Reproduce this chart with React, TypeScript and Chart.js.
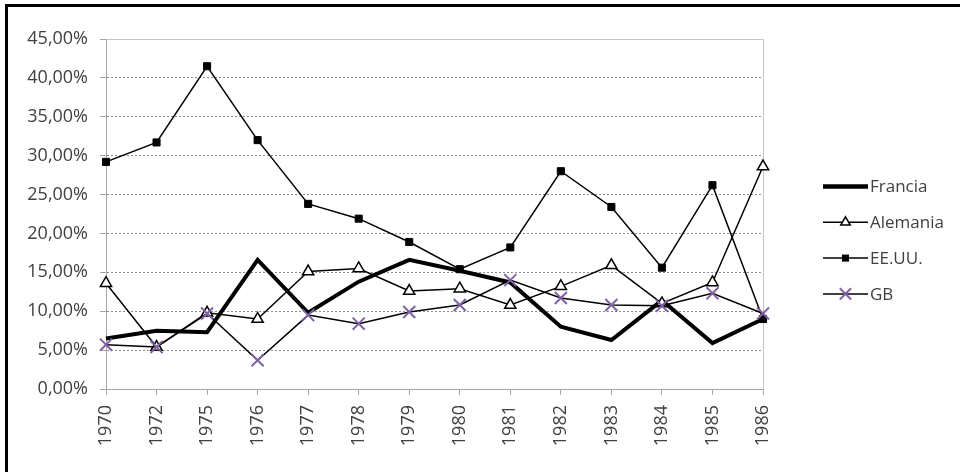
import React, { useEffect, useRef } from 'react';
import { Chart, registerables } from 'chart.js';

Chart.register(...registerables);

const years = ['1970', '1972', '1975', '1976', '1977', '1978', '1979', '1980', '1981', '1982', '1983', '1984', '1985', '1986'];
const francia = [6.5, 7.5, 7.3, 16.6, 9.8, 13.8, 16.6, 15.2, 13.7, 8.0, 6.3, 11.4, 5.9, 9.0];
const alemania = [13.6, 5.4, 9.8, 9.0, 15.1, 15.5, 12.6, 12.9, 10.8, 13.2, 15.9, 11.0, 13.7, 28.6];
const eeuu = [29.2, 31.7, 41.5, 32.0, 23.8, 21.9, 18.9, 15.4, 18.2, 28.0, 23.4, 15.6, 26.2, 9.0];
const gb = [5.7, 5.4, 9.7, 3.7, 9.5, 8.4, 9.9, 10.8, 14.0, 11.7, 10.8, 10.7, 12.3, 9.7];
const seriesNames = ['Francia', 'Alemania', 'EE.UU.', 'GB'];
const yMin = 0;
const yMax = 45;
const yStep = 5;

const FONT = '"Open Sans", "DejaVu Sans", sans-serif';
const TEXT = '#404040';
const AXIS = '#a6a6a6';
const GRID = '#8c8c8c';
const PURPLE = '#8064A2';

function drawMarker(ctx: CanvasRenderingContext2D, style: string, x: number, y: number, r: number) {
  ctx.beginPath();
  if (style === 'rect') {
    const s = Math.SQRT1_2 * r;
    ctx.rect(x - s, y - s, 2 * s, 2 * s);
    ctx.fill();
  } else if (style === 'triangle') {
    let rad = 0;
    ctx.moveTo(x + Math.sin(rad) * r, y - Math.cos(rad) * r);
    rad += (2 * Math.PI) / 3;
    ctx.lineTo(x + Math.sin(rad) * r, y - Math.cos(rad) * r);
    rad += (2 * Math.PI) / 3;
    ctx.lineTo(x + Math.sin(rad) * r, y - Math.cos(rad) * r);
    ctx.closePath();
    ctx.fill();
    ctx.stroke();
  } else if (style === 'crossRot') {
    const o = Math.SQRT1_2 * r;
    ctx.moveTo(x - o, y - o);
    ctx.lineTo(x + o, y + o);
    ctx.moveTo(x - o, y + o);
    ctx.lineTo(x + o, y - o);
    ctx.stroke();
  }
}

const framePlugin = {
  id: 'plotFrame',
  beforeDatasetsDraw(chart: any) {
    const { ctx, chartArea } = chart;
    const l = Math.round(chartArea.left) + 0.5;
    const r = Math.round(chartArea.right) + 0.5;
    const t = Math.round(chartArea.top) + 0.5;
    const b = Math.round(chartArea.bottom) + 0.5;
    ctx.save();
    ctx.strokeStyle = '#c4c4c4';
    ctx.lineWidth = 1;
    ctx.beginPath();
    ctx.moveTo(l, t);
    ctx.lineTo(r, t);
    ctx.lineTo(r, b);
    ctx.stroke();
    ctx.restore();
  },
};

const sideLegend = {
  id: 'sideLegend',
  afterDraw(chart: any) {
    const { ctx, chartArea } = chart;
    const x0 = chartArea.right + 60;
    const lineLen = 45;
    const top = 186.5;
    const gap = 35.8;
    ctx.save();
    chart.data.datasets.forEach((ds: any, i: number) => {
      const y = top + i * gap;
      ctx.strokeStyle = '#000';
      ctx.lineWidth = i === 0 ? 4.5 : 1.5;
      ctx.beginPath();
      ctx.moveTo(x0, y);
      ctx.lineTo(x0 + lineLen, y);
      ctx.stroke();
      if (ds.pointRadius > 0) {
        ctx.fillStyle = ds.pointBackgroundColor;
        ctx.strokeStyle = ds.pointBorderColor;
        ctx.lineWidth = ds.pointBorderWidth;
        const rr = ds.pointStyle === 'triangle' ? 5.5 : ds.pointStyle === 'rect' ? 5 : 8;
        drawMarker(ctx, ds.pointStyle, x0 + lineLen / 2, y, rr);
      }
      ctx.fillStyle = TEXT;
      ctx.font = `17px ${FONT}`;
      ctx.textAlign = 'left';
      ctx.textBaseline = 'middle';
      ctx.fillText(ds.label, x0 + lineLen + 2, y + 1);
    });
    ctx.restore();
  },
};

export default function App() {
  const ref = useRef<HTMLCanvasElement>(null);

  useEffect(() => {
    const chart = new Chart(ref.current as HTMLCanvasElement, {
      type: 'line',
      data: {
        labels: years,
        datasets: [
          {
            label: seriesNames[0],
            data: francia,
            borderColor: '#000',
            borderWidth: 4,
            pointRadius: 0,
            pointStyle: 'circle',
            tension: 0,
            order: 3,
            clip: false as any,
          },
          {
            label: seriesNames[1],
            data: alemania,
            borderColor: '#000',
            borderWidth: 1.5,
            pointStyle: 'triangle',
            pointRadius: 6.5,
            pointBackgroundColor: '#fff',
            pointBorderColor: '#000',
            pointBorderWidth: 1.5,
            tension: 0,
            order: 2,
            clip: false as any,
          },
          {
            label: seriesNames[2],
            data: eeuu,
            borderColor: '#000',
            borderWidth: 1.5,
            pointStyle: 'rect',
            pointRadius: 5,
            pointBackgroundColor: '#000',
            pointBorderColor: '#000',
            pointBorderWidth: 1,
            tension: 0,
            order: 1,
            clip: false as any,
          },
          {
            label: seriesNames[3],
            data: gb,
            borderColor: '#000',
            borderWidth: 1.5,
            pointStyle: 'crossRot',
            pointRadius: 8.5,
            pointBackgroundColor: PURPLE,
            pointBorderColor: PURPLE,
            pointBorderWidth: 2,
            tension: 0,
            order: 0,
            clip: false as any,
          },
        ],
      },
      options: {
        responsive: false,
        animation: false,
        layout: { padding: { top: 39, right: 197, left: 0, bottom: 0 } },
        plugins: {
          legend: { display: false },
          tooltip: { enabled: false },
        },
        scales: {
          x: {
            type: 'category',
            offset: false,
            grid: {
              drawOnChartArea: false,
              drawTicks: true,
              tickLength: 6,
              color: AXIS,
            },
            border: { display: true, color: AXIS, width: 1 },
            ticks: {
              autoSkip: false,
              minRotation: 90,
              maxRotation: 90,
              padding: 10,
              color: TEXT,
              font: { family: FONT, size: 18 },
            },
            afterFit: (s: any) => {
              s.height = 472 - 389;
            },
          },
          y: {
            min: yMin,
            max: yMax,
            ticks: {
              stepSize: yStep,
              padding: 12,
              color: TEXT,
              font: { family: FONT, size: 18 },
              callback: (v: any) => Number(v).toFixed(2).replace('.', ',') + '%',
            },
            grid: {
              color: (c: any) => (c.tick && c.tick.value === yMax ? 'rgba(0,0,0,0)' : GRID),
              tickColor: AXIS,
              tickLength: 6,
              lineWidth: 1,
            },
            border: { display: true, color: AXIS, width: 1, dash: [2, 2] },
            afterFit: (s: any) => {
              s.width = 106;
            },
          },
        },
      },
      plugins: [framePlugin, sideLegend],
    } as any);
    return () => chart.destroy();
  }, []);

  return (
    <div style={{ position: 'absolute', left: 0, top: 0, width: 960, height: 472, background: '#fff', overflow: 'hidden' }}>
      <div
        style={{
          position: 'absolute',
          left: 5,
          top: 4,
          width: 955,
          height: 468,
          borderTop: '3px solid #000',
          borderLeft: '3px solid #000',
          boxSizing: 'border-box',
        }}
      />
      <canvas ref={ref} width={960} height={472} style={{ position: 'absolute', left: 0, top: 0, width: 960, height: 472 }} />
    </div>
  );
}
